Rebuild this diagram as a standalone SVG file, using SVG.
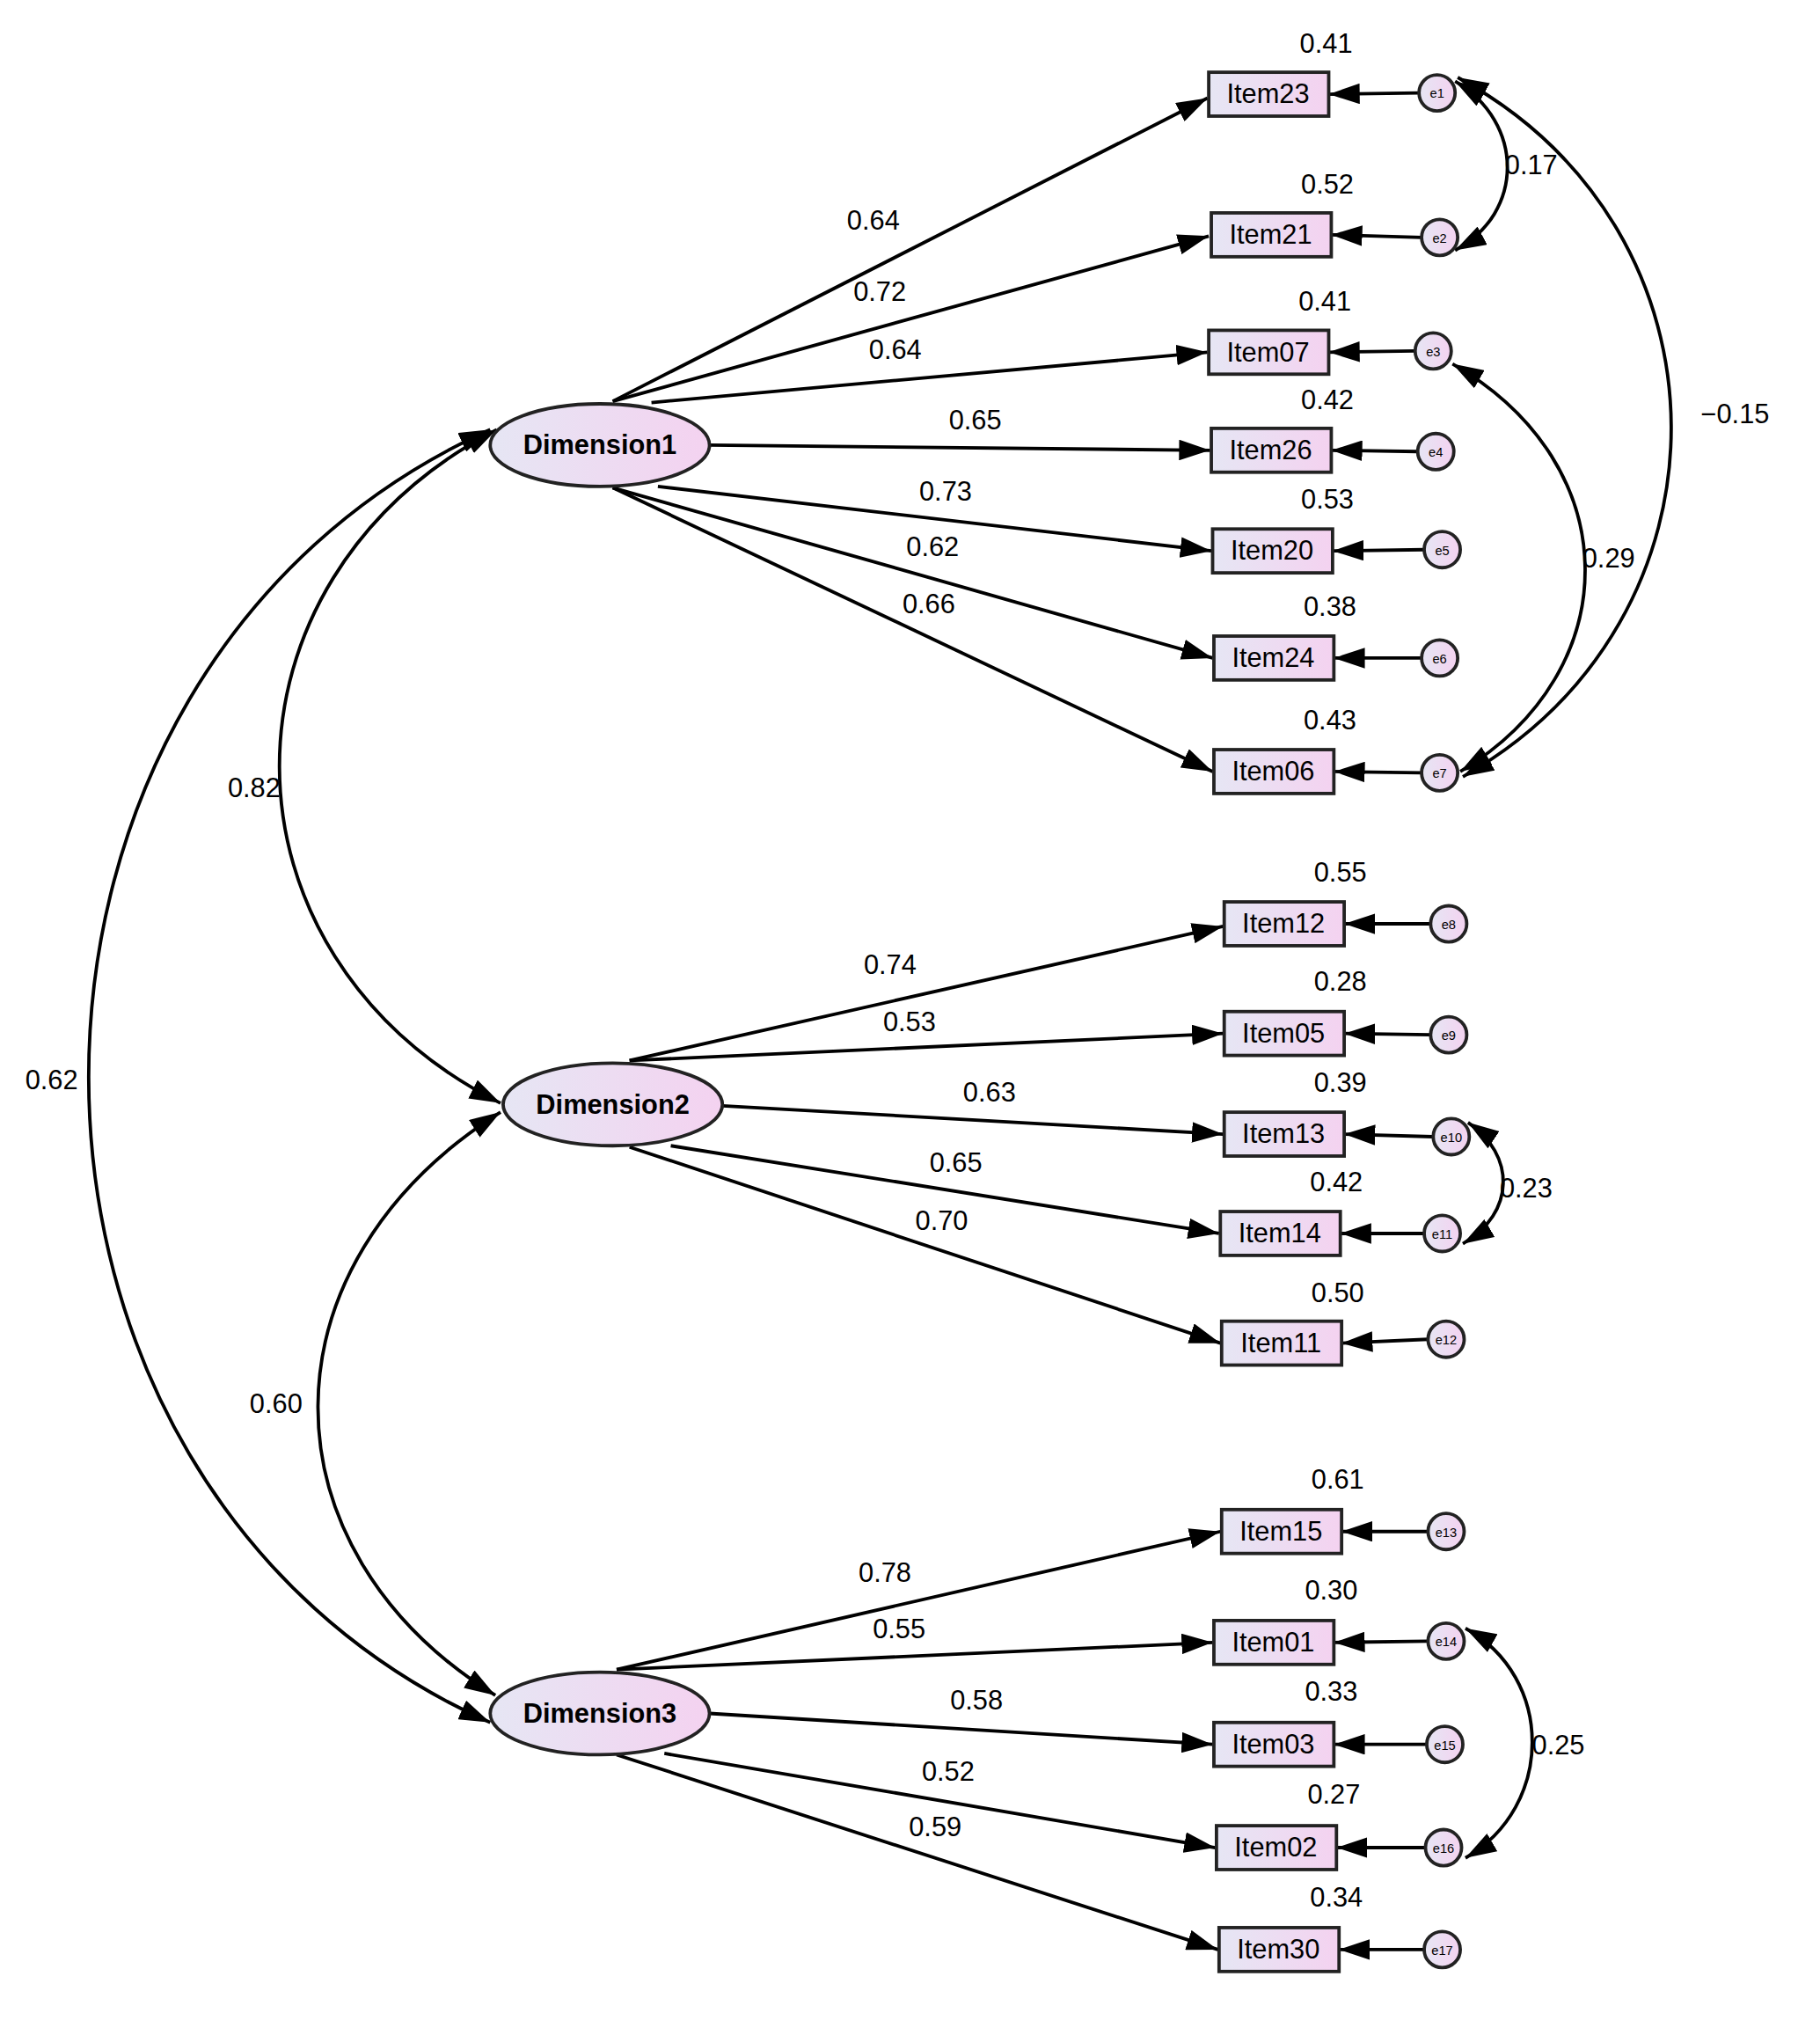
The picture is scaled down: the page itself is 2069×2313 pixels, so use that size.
<svg xmlns="http://www.w3.org/2000/svg" width="2069" height="2313" viewBox="0 0 2069 2313">
<defs>
<linearGradient id="gr" x1="0" y1="0" x2="1" y2="0"><stop offset="0" stop-color="#e6e6f4"/><stop offset="1" stop-color="#f4d2f0"/></linearGradient>
<marker id="ah" viewBox="0 0 24 16" refX="24" refY="8" markerWidth="24" markerHeight="16" markerUnits="userSpaceOnUse" orient="auto-start-reverse"><path d="M0,0 L24,8 L0,16 z" fill="#000"/></marker>
<style>
.l{stroke:#000;stroke-width:2.6;fill:none;marker-end:url(#ah)}
.c{stroke:#000;stroke-width:2.6;fill:none;marker-end:url(#ah);marker-start:url(#ah)}
.b{fill:url(#gr);stroke:#222;stroke-width:2.6}
.t{font-family:"Liberation Sans",Arial,sans-serif;font-size:21px;fill:#000;text-anchor:middle}
.d{font-family:"Liberation Sans",Arial,sans-serif;font-size:21px;font-weight:bold;fill:#000;text-anchor:middle}
.e{font-family:"Liberation Sans",Arial,sans-serif;font-size:10px;fill:#000;text-anchor:middle}
.n{font-family:"Liberation Sans",Arial,sans-serif;font-size:21px;fill:#000;text-anchor:middle}
</style>
</defs>
<rect width="2069" height="2313" fill="#fff"/>
<g transform="scale(1.4665)">
<g id="connectors">
<path class="l" d="M475,311 L936,76"/>
<path class="l" d="M475,311 L937,183"/>
<path class="l" d="M505,312 L936,273"/>
<path class="l" d="M550,345 L938,349"/>
<path class="l" d="M510,377 L939,427"/>
<path class="l" d="M475,378 L940,510"/>
<path class="l" d="M475,378 L940,598"/>
<path class="l" d="M488,822 L948,718"/>
<path class="l" d="M488,822 L948,801"/>
<path class="l" d="M560,857 L948,879"/>
<path class="l" d="M520,888 L945,956"/>
<path class="l" d="M488,889 L946,1041"/>
<path class="l" d="M478,1294 L946,1187"/>
<path class="l" d="M478,1294 L940,1273"/>
<path class="l" d="M550,1328 L940,1352"/>
<path class="l" d="M515,1359 L942,1432"/>
<path class="l" d="M478,1360 L944,1511"/>
<path class="l" d="M1100,72 L1030,73"/>
<path class="l" d="M1102,184 L1032,182"/>
<path class="l" d="M1097,272 L1030,273"/>
<path class="l" d="M1099,350 L1032,349"/>
<path class="l" d="M1104,426 L1033,427"/>
<path class="l" d="M1102,510 L1034,510"/>
<path class="l" d="M1102,599 L1034,598"/>
<path class="l" d="M1109,716 L1042,716"/>
<path class="l" d="M1109,802 L1042,801"/>
<path class="l" d="M1111,881 L1042,879"/>
<path class="l" d="M1104,956 L1039,956"/>
<path class="l" d="M1107,1038 L1040,1041"/>
<path class="l" d="M1107,1187 L1040,1187"/>
<path class="l" d="M1107,1272 L1034,1273"/>
<path class="l" d="M1106,1352 L1034,1352"/>
<path class="l" d="M1105,1432 L1036,1432"/>
<path class="l" d="M1104,1511 L1038,1511"/>
<path class="c" d="M385,333 C160,450 160,740 388,855"/>
<path class="c" d="M388,862 C200,980 200,1200 384,1314"/>
<path class="c" d="M380,333 C-35,520 -35,1150 380,1335"/>
<path class="c" d="M1128,63 C1182,95 1182,165 1128,194"/>
<path class="c" d="M1126,282 C1262,360 1262,520 1132,598"/>
<path class="c" d="M1130,60 C1350,180 1350,480 1134,602"/>
<path class="c" d="M1138,870 C1175,895 1175,940 1134,964"/>
<path class="c" d="M1136,1262 C1205,1300 1205,1400 1136,1440"/>
</g>
<g id="labels">
<text class="t" x="677" y="178">0.64</text>
<text class="t" x="682" y="233">0.72</text>
<text class="t" x="694" y="278">0.64</text>
<text class="t" x="756" y="333">0.65</text>
<text class="t" x="733" y="388">0.73</text>
<text class="t" x="723" y="431">0.62</text>
<text class="t" x="720" y="475">0.66</text>
<text class="t" x="690" y="755">0.74</text>
<text class="t" x="705" y="799">0.53</text>
<text class="t" x="767" y="854">0.63</text>
<text class="t" x="741" y="908">0.65</text>
<text class="t" x="730" y="953">0.70</text>
<text class="t" x="686" y="1226">0.78</text>
<text class="t" x="697" y="1270">0.55</text>
<text class="t" x="757" y="1325">0.58</text>
<text class="t" x="735" y="1380">0.52</text>
<text class="t" x="725" y="1423">0.59</text>
<text class="t" x="197" y="618">0.82</text>
<text class="t" x="214" y="1095">0.60</text>
<text class="t" x="40" y="844">0.62</text>
<text class="t" x="1187" y="135">0.17</text>
<text class="t" x="1247" y="440">0.29</text>
<text class="t" x="1345" y="328">−0.15</text>
<text class="t" x="1183" y="928">0.23</text>
<text class="t" x="1208" y="1360">0.25</text>
<text class="t" x="1028" y="41">0.41</text>
<text class="t" x="1029" y="150">0.52</text>
<text class="t" x="1027" y="241">0.41</text>
<text class="t" x="1029" y="317">0.42</text>
<text class="t" x="1029" y="394">0.53</text>
<text class="t" x="1031" y="477">0.38</text>
<text class="t" x="1031" y="565">0.43</text>
<text class="t" x="1039" y="683">0.55</text>
<text class="t" x="1039" y="768">0.28</text>
<text class="t" x="1039" y="846">0.39</text>
<text class="t" x="1036" y="923">0.42</text>
<text class="t" x="1037" y="1009">0.50</text>
<text class="t" x="1037" y="1154">0.61</text>
<text class="t" x="1032" y="1240">0.30</text>
<text class="t" x="1032" y="1318">0.33</text>
<text class="t" x="1034" y="1398">0.27</text>
<text class="t" x="1036" y="1478">0.34</text>
</g>
<g id="Dimension1"><ellipse class="b" cx="465" cy="345" rx="85" ry="32"/><text class="d" x="465" y="352">Dimension1</text></g>
<g id="Dimension2"><ellipse class="b" cx="475" cy="856" rx="85" ry="32"/><text class="d" x="475" y="863">Dimension2</text></g>
<g id="Dimension3"><ellipse class="b" cx="465" cy="1328" rx="85" ry="32"/><text class="d" x="465" y="1335">Dimension3</text></g>
<g id="Item23"><rect class="b" x="937" y="56" width="93" height="34"/><text class="n" x="983" y="80">Item23</text></g>
<g id="Item21"><rect class="b" x="939" y="165" width="93" height="34"/><text class="n" x="985" y="189">Item21</text></g>
<g id="Item07"><rect class="b" x="937" y="256" width="93" height="34"/><text class="n" x="983" y="280">Item07</text></g>
<g id="Item26"><rect class="b" x="939" y="332" width="93" height="34"/><text class="n" x="985" y="356">Item26</text></g>
<g id="Item20"><rect class="b" x="940" y="410" width="93" height="34"/><text class="n" x="986" y="434">Item20</text></g>
<g id="Item24"><rect class="b" x="941" y="493" width="93" height="34"/><text class="n" x="987" y="517">Item24</text></g>
<g id="Item06"><rect class="b" x="941" y="581" width="93" height="34"/><text class="n" x="987" y="605">Item06</text></g>
<g id="Item12"><rect class="b" x="949" y="699" width="93" height="34"/><text class="n" x="995" y="723">Item12</text></g>
<g id="Item05"><rect class="b" x="949" y="784" width="93" height="34"/><text class="n" x="995" y="808">Item05</text></g>
<g id="Item13"><rect class="b" x="949" y="862" width="93" height="34"/><text class="n" x="995" y="886">Item13</text></g>
<g id="Item14"><rect class="b" x="946" y="939" width="93" height="34"/><text class="n" x="992" y="963">Item14</text></g>
<g id="Item11"><rect class="b" x="947" y="1024" width="93" height="34"/><text class="n" x="993" y="1048">Item11</text></g>
<g id="Item15"><rect class="b" x="947" y="1170" width="93" height="34"/><text class="n" x="993" y="1194">Item15</text></g>
<g id="Item01"><rect class="b" x="941" y="1256" width="93" height="34"/><text class="n" x="987" y="1280">Item01</text></g>
<g id="Item03"><rect class="b" x="941" y="1335" width="93" height="34"/><text class="n" x="987" y="1359">Item03</text></g>
<g id="Item02"><rect class="b" x="943" y="1415" width="93" height="34"/><text class="n" x="989" y="1439">Item02</text></g>
<g id="Item30"><rect class="b" x="945" y="1494" width="93" height="34"/><text class="n" x="991" y="1518">Item30</text></g>
<g id="e1"><circle class="b" cx="1114" cy="72" r="14"/><text class="e" x="1114" y="76">e1</text></g>
<g id="e2"><circle class="b" cx="1116" cy="184" r="14"/><text class="e" x="1116" y="188">e2</text></g>
<g id="e3"><circle class="b" cx="1111" cy="272" r="14"/><text class="e" x="1111" y="276">e3</text></g>
<g id="e4"><circle class="b" cx="1113" cy="350" r="14"/><text class="e" x="1113" y="354">e4</text></g>
<g id="e5"><circle class="b" cx="1118" cy="426" r="14"/><text class="e" x="1118" y="430">e5</text></g>
<g id="e6"><circle class="b" cx="1116" cy="510" r="14"/><text class="e" x="1116" y="514">e6</text></g>
<g id="e7"><circle class="b" cx="1116" cy="599" r="14"/><text class="e" x="1116" y="603">e7</text></g>
<g id="e8"><circle class="b" cx="1123" cy="716" r="14"/><text class="e" x="1123" y="720">e8</text></g>
<g id="e9"><circle class="b" cx="1123" cy="802" r="14"/><text class="e" x="1123" y="806">e9</text></g>
<g id="e10"><circle class="b" cx="1125" cy="881" r="14"/><text class="e" x="1125" y="885">e10</text></g>
<g id="e11"><circle class="b" cx="1118" cy="956" r="14"/><text class="e" x="1118" y="960">e11</text></g>
<g id="e12"><circle class="b" cx="1121" cy="1038" r="14"/><text class="e" x="1121" y="1042">e12</text></g>
<g id="e13"><circle class="b" cx="1121" cy="1187" r="14"/><text class="e" x="1121" y="1191">e13</text></g>
<g id="e14"><circle class="b" cx="1121" cy="1272" r="14"/><text class="e" x="1121" y="1276">e14</text></g>
<g id="e15"><circle class="b" cx="1120" cy="1352" r="14"/><text class="e" x="1120" y="1356">e15</text></g>
<g id="e16"><circle class="b" cx="1119" cy="1432" r="14"/><text class="e" x="1119" y="1436">e16</text></g>
<g id="e17"><circle class="b" cx="1118" cy="1511" r="14"/><text class="e" x="1118" y="1515">e17</text></g>
</g>
</svg>
